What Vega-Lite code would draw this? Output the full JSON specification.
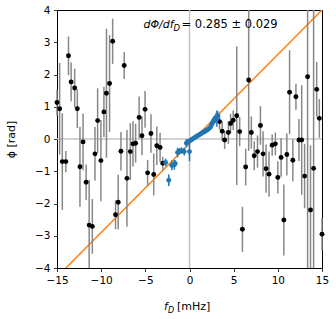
{
  "$schema": "https://vega.github.io/schema/vega-lite/v6.json",
  "width": 265,
  "height": 258,
  "autosize": "none",
  "padding": {"left": 57, "top": 10, "right": 14, "bottom": 51},
  "background": "white",
  "datasets": {
    "black": [
      {"x": -15.0, "y": 1.13, "e": 0.4}, {"x": -14.7, "y": 0.94, "e": 1.42}, {"x": -14.4, "y": -0.7, "e": 1.5},
      {"x": -14.0, "y": -0.7, "e": 0.33}, {"x": -13.7, "y": 2.58, "e": 0.6}, {"x": -13.4, "y": 1.77, "e": 0.6},
      {"x": -13.0, "y": 1.58, "e": 0.6}, {"x": -12.7, "y": 0.94, "e": 0.6}, {"x": -12.4, "y": -0.86, "e": 1.24},
      {"x": -12.05, "y": -0.09, "e": 0.88}, {"x": -11.7, "y": -1.34, "e": 0.55}, {"x": -11.36, "y": -2.67, "e": 1.4},
      {"x": -11.0, "y": -2.71, "e": 0.85}, {"x": -10.7, "y": -0.46, "e": 0.83}, {"x": -10.4, "y": 0.57, "e": 1.0},
      {"x": -10.03, "y": -0.67, "e": 1.26}, {"x": -9.69, "y": 0.84, "e": 0.78}, {"x": -9.4, "y": 1.42, "e": 2.0},
      {"x": -9.05, "y": 1.72, "e": 1.5}, {"x": -8.7, "y": 3.03, "e": 0.7}, {"x": -8.37, "y": -2.35, "e": 0.45},
      {"x": -8.07, "y": -1.96, "e": 0.85}, {"x": -7.76, "y": -0.38, "e": 0.6}, {"x": -7.39, "y": 2.28, "e": 0.42},
      {"x": -7.08, "y": -1.22, "e": 1.5}, {"x": -6.7, "y": -0.39, "e": 0.88}, {"x": -6.4, "y": -0.15, "e": 0.7},
      {"x": -6.1, "y": -0.13, "e": 0.6}, {"x": -5.7, "y": 0.67, "e": 0.65}, {"x": -5.38, "y": 0.1, "e": 0.6},
      {"x": -5.03, "y": 0.92, "e": 0.57}, {"x": -4.74, "y": -1.05, "e": 0.4}, {"x": -4.36, "y": 0.17, "e": 0.6},
      {"x": -4.05, "y": -1.1, "e": 0.65}, {"x": -3.7, "y": -0.21, "e": 0.6}, {"x": -3.33, "y": -0.26, "e": 0.45},
      {"x": -3.03, "y": -0.75, "e": 0.2},
      {"x": 3.4, "y": 0.54, "e": 0.25}, {"x": 3.7, "y": 0.24, "e": 0.3}, {"x": 3.98, "y": -0.03, "e": 0.28},
      {"x": 4.4, "y": 0.2, "e": 0.35}, {"x": 4.65, "y": 0.48, "e": 0.3}, {"x": 4.95, "y": 0.58, "e": 0.3},
      {"x": 5.35, "y": 0.72, "e": 2.15}, {"x": 5.68, "y": 0.23, "e": 0.45}, {"x": 5.99, "y": -2.8, "e": 0.7},
      {"x": 6.36, "y": -0.87, "e": 0.57}, {"x": 6.7, "y": 1.83, "e": 2.2}, {"x": 7.0, "y": 0.2, "e": 0.5},
      {"x": 7.33, "y": -0.52, "e": 0.45}, {"x": 7.7, "y": -0.39, "e": 0.5}, {"x": 8.03, "y": 0.42, "e": 0.6},
      {"x": 8.33, "y": -0.46, "e": 0.7}, {"x": 8.67, "y": -0.92, "e": 0.75}, {"x": 9.0, "y": -1.09, "e": 0.7},
      {"x": 9.36, "y": -0.19, "e": 0.33}, {"x": 9.72, "y": -0.15, "e": 0.35}, {"x": 10.0, "y": -1.19, "e": 0.5},
      {"x": 10.37, "y": -0.57, "e": 0.6}, {"x": 10.68, "y": -2.51, "e": 1.1}, {"x": 11.02, "y": -0.48, "e": 0.65},
      {"x": 11.33, "y": 1.45, "e": 1.3}, {"x": 11.7, "y": -0.66, "e": 0.65}, {"x": 12.05, "y": 1.31, "e": 0.4},
      {"x": 12.39, "y": -0.03, "e": 0.65}, {"x": 12.7, "y": -0.03, "e": 1.7}, {"x": 13.03, "y": -1.15, "e": 1.0},
      {"x": 13.37, "y": 1.93, "e": 6}, {"x": 13.7, "y": -2.2, "e": 2.0}, {"x": 14.05, "y": -0.91, "e": 6},
      {"x": 14.4, "y": 1.54, "e": 0.85}, {"x": 14.7, "y": 0.64, "e": 0.6}, {"x": 15.0, "y": -2.95, "e": 0.5}
    ],
    "blue": [
      {"x": -2.7, "y": -0.73, "e": 0.12}, {"x": -2.35, "y": -1.28, "e": 0.18}, {"x": -2.0, "y": -0.82, "e": 0.15},
      {"x": -1.72, "y": -0.8, "e": 0.15}, {"x": -1.62, "y": -0.76, "e": 0.1}, {"x": -1.35, "y": -0.42, "e": 0.15},
      {"x": -1.15, "y": -0.38, "e": 0.1}, {"x": -0.9, "y": -0.36, "e": 0.1}, {"x": -0.6, "y": -0.39, "e": 0.12},
      {"x": -0.35, "y": -0.13, "e": 0.12}, {"x": -0.2, "y": -0.08, "e": 0.08}, {"x": 0.0, "y": -0.39, "e": 0.3},
      {"x": 0.15, "y": -0.04, "e": 0.05}, {"x": 0.3, "y": -0.01, "e": 0.05}, {"x": 0.45, "y": 0.02, "e": 0.05},
      {"x": 0.6, "y": 0.05, "e": 0.05}, {"x": 0.75, "y": 0.07, "e": 0.05}, {"x": 0.9, "y": 0.1, "e": 0.05},
      {"x": 1.05, "y": 0.12, "e": 0.05}, {"x": 1.2, "y": 0.15, "e": 0.05}, {"x": 1.35, "y": 0.17, "e": 0.05},
      {"x": 1.5, "y": 0.2, "e": 0.05}, {"x": 1.65, "y": 0.22, "e": 0.05}, {"x": 1.8, "y": 0.25, "e": 0.06},
      {"x": 1.95, "y": 0.27, "e": 0.06}, {"x": 2.1, "y": 0.3, "e": 0.06}, {"x": 2.25, "y": 0.33, "e": 0.06},
      {"x": 2.4, "y": 0.38, "e": 0.08}, {"x": 2.5, "y": 0.44, "e": 0.08}, {"x": 2.6, "y": 0.5, "e": 0.1},
      {"x": 2.7, "y": 0.55, "e": 0.1}, {"x": 2.8, "y": 0.6, "e": 0.12}, {"x": 2.9, "y": 0.62, "e": 0.12},
      {"x": 3.0, "y": 0.66, "e": 0.15}, {"x": 3.1, "y": 0.63, "e": 0.25}, {"x": 3.2, "y": 0.71, "e": 0.15}
    ],
    "fit": [{"x": -13.99, "y": -4.0}, {"x": 15.0, "y": 4.0}]
  },
  "layer": [
    {
      "data": {"values": [{}]},
      "mark": {"type": "rule", "color": "#c4c4c4", "strokeWidth": 1.5},
      "encoding": {
        "y": {"datum": 0, "type": "quantitative", "title": "ϕ [rad]", "scale": {"domain": [-4, 4], "nice": false, "clamp": true},
          "axis": {"values": [-4, -3, -2, -1, 0, 1, 2, 3, 4], "format": "d", "tickCount": 12, "titleX": -46, "titleY": 129, "titleAngle": 270, "titleAlign": "center", "titleBaseline": "middle"}}
      }
    },
    {
      "data": {"values": [{}]},
      "mark": {"type": "rule", "color": "#c4c4c4", "strokeWidth": 1.5},
      "encoding": {
        "x": {"datum": 0, "type": "quantitative", "title": null, "scale": {"domain": [-15, 15], "nice": false},
          "axis": {"values": [-15, -10, -5, 0, 5, 10, 15], "format": "d", "tickCount": 10}}
      }
    },
    {
      "data": {"name": "fit"},
      "mark": {"type": "line", "color": "#ff7f0e", "strokeWidth": 1.5, "clip": true},
      "encoding": {
        "x": {"field": "x", "type": "quantitative", "title": null, "scale": {"domain": [-15, 15], "nice": false},
          "axis": {"values": [-15, -10, -5, 0, 5, 10, 15], "format": "d", "tickCount": 10}},
        "y": {"field": "y", "type": "quantitative", "title": "ϕ [rad]", "scale": {"domain": [-4, 4], "nice": false, "clamp": true},
          "axis": {"values": [-4, -3, -2, -1, 0, 1, 2, 3, 4], "format": "d", "tickCount": 12, "titleX": -46, "titleY": 129, "titleAngle": 270, "titleAlign": "center", "titleBaseline": "middle"}}
      }
    },
    {
      "data": {"name": "black"},
      "mark": {"type": "errorbar", "color": "#888888", "thickness": 1.5, "ticks": false},
      "encoding": {
        "x": {"field": "x", "type": "quantitative", "title": null, "scale": {"domain": [-15, 15], "nice": false},
          "axis": {"values": [-15, -10, -5, 0, 5, 10, 15], "format": "d", "tickCount": 10}},
        "y": {"field": "y", "type": "quantitative", "title": "ϕ [rad]", "scale": {"domain": [-4, 4], "nice": false, "clamp": true},
          "axis": {"values": [-4, -3, -2, -1, 0, 1, 2, 3, 4], "format": "d", "tickCount": 12, "titleX": -46, "titleY": 129, "titleAngle": 270, "titleAlign": "center", "titleBaseline": "middle"}},
        "yError": {"field": "e"}
      }
    },
    {
      "data": {"name": "black"},
      "mark": {"type": "point", "filled": true, "color": "black", "opacity": 1, "size": 24},
      "encoding": {
        "x": {"field": "x", "type": "quantitative", "title": null, "scale": {"domain": [-15, 15], "nice": false},
          "axis": {"values": [-15, -10, -5, 0, 5, 10, 15], "format": "d", "tickCount": 10}},
        "y": {"field": "y", "type": "quantitative", "title": "ϕ [rad]", "scale": {"domain": [-4, 4], "nice": false, "clamp": true},
          "axis": {"values": [-4, -3, -2, -1, 0, 1, 2, 3, 4], "format": "d", "tickCount": 12, "titleX": -46, "titleY": 129, "titleAngle": 270, "titleAlign": "center", "titleBaseline": "middle"}}
      }
    },
    {
      "data": {"name": "blue"},
      "mark": {"type": "errorbar", "color": "#1f77b4", "thickness": 1.5, "ticks": false},
      "encoding": {
        "x": {"field": "x", "type": "quantitative", "title": null, "scale": {"domain": [-15, 15], "nice": false},
          "axis": {"values": [-15, -10, -5, 0, 5, 10, 15], "format": "d", "tickCount": 10}},
        "y": {"field": "y", "type": "quantitative", "title": "ϕ [rad]", "scale": {"domain": [-4, 4], "nice": false, "clamp": true},
          "axis": {"values": [-4, -3, -2, -1, 0, 1, 2, 3, 4], "format": "d", "tickCount": 12, "titleX": -46, "titleY": 129, "titleAngle": 270, "titleAlign": "center", "titleBaseline": "middle"}},
        "yError": {"field": "e"}
      }
    },
    {
      "data": {"name": "blue"},
      "mark": {"type": "point", "filled": true, "color": "#1f77b4", "opacity": 1, "size": 24},
      "encoding": {
        "x": {"field": "x", "type": "quantitative", "title": null, "scale": {"domain": [-15, 15], "nice": false},
          "axis": {"values": [-15, -10, -5, 0, 5, 10, 15], "format": "d", "tickCount": 10}},
        "y": {"field": "y", "type": "quantitative", "title": "ϕ [rad]", "scale": {"domain": [-4, 4], "nice": false, "clamp": true},
          "axis": {"values": [-4, -3, -2, -1, 0, 1, 2, 3, 4], "format": "d", "tickCount": 12, "titleX": -46, "titleY": 129, "titleAngle": 270, "titleAlign": "center", "titleBaseline": "middle"}}
      }
    },
    {
      "data": {"values": [{}]},
      "mark": {"type": "text", "text": "dΦ/df", "align": "right", "baseline": "alphabetic", "fontStyle": "italic", "fontSize": 11, "font": "DejaVu Sans", "color": "black"},
      "encoding": {"x": {"datum": -1.8, "type": "quantitative"}, "y": {"datum": 3.44, "type": "quantitative"}}
    },
    {
      "data": {"values": [{}]},
      "mark": {"type": "text", "text": "D", "align": "left", "baseline": "alphabetic", "fontStyle": "italic", "fontSize": 8.5, "font": "DejaVu Sans", "color": "black"},
      "encoding": {"x": {"datum": -1.8, "type": "quantitative"}, "y": {"datum": 3.36, "type": "quantitative"}}
    },
    {
      "data": {"values": [{}]},
      "mark": {"type": "text", "text": "= 0.285 ± 0.029", "align": "left", "baseline": "alphabetic", "fontSize": 11.5, "font": "DejaVu Sans", "color": "black"},
      "encoding": {"x": {"datum": -0.9, "type": "quantitative"}, "y": {"datum": 3.44, "type": "quantitative"}}
    },
    {
      "data": {"values": [{}]},
      "mark": {"type": "text", "text": "f", "align": "right", "baseline": "alphabetic", "fontStyle": "italic", "fontSize": 11, "font": "DejaVu Sans", "color": "black", "dy": 42},
      "encoding": {"x": {"datum": -2.44, "type": "quantitative"}, "y": {"datum": -4, "type": "quantitative"}}
    },
    {
      "data": {"values": [{}]},
      "mark": {"type": "text", "text": "D", "align": "left", "baseline": "alphabetic", "fontStyle": "italic", "fontSize": 8, "font": "DejaVu Sans", "color": "black", "dy": 44.5},
      "encoding": {"x": {"datum": -2.44, "type": "quantitative"}, "y": {"datum": -4, "type": "quantitative"}}
    },
    {
      "data": {"values": [{}]},
      "mark": {"type": "text", "text": "[mHz]", "align": "left", "baseline": "alphabetic", "fontSize": 11, "font": "DejaVu Sans", "color": "black", "dy": 42},
      "encoding": {"x": {"datum": -1.42, "type": "quantitative"}, "y": {"datum": -4, "type": "quantitative"}}
    }
  ],
  "config": {
    "view": {"stroke": "black", "strokeWidth": 1},
    "axis": {
      "grid": false, "domain": false, "tickColor": "black", "tickSize": 3.5, "tickWidth": 0.8,
      "labelFlush": false, "labelOverlap": false, "format": "d",
      "labelFont": "DejaVu Sans", "labelFontSize": 10.5, "labelColor": "black", "labelPadding": 3.5,
      "titleFont": "DejaVu Sans", "titleFontSize": 11, "titleFontWeight": "normal", "titleColor": "black"
    },
    "axisY": {"tickCount": 12},
    "axisX": {"tickCount": 10}
  }
}
